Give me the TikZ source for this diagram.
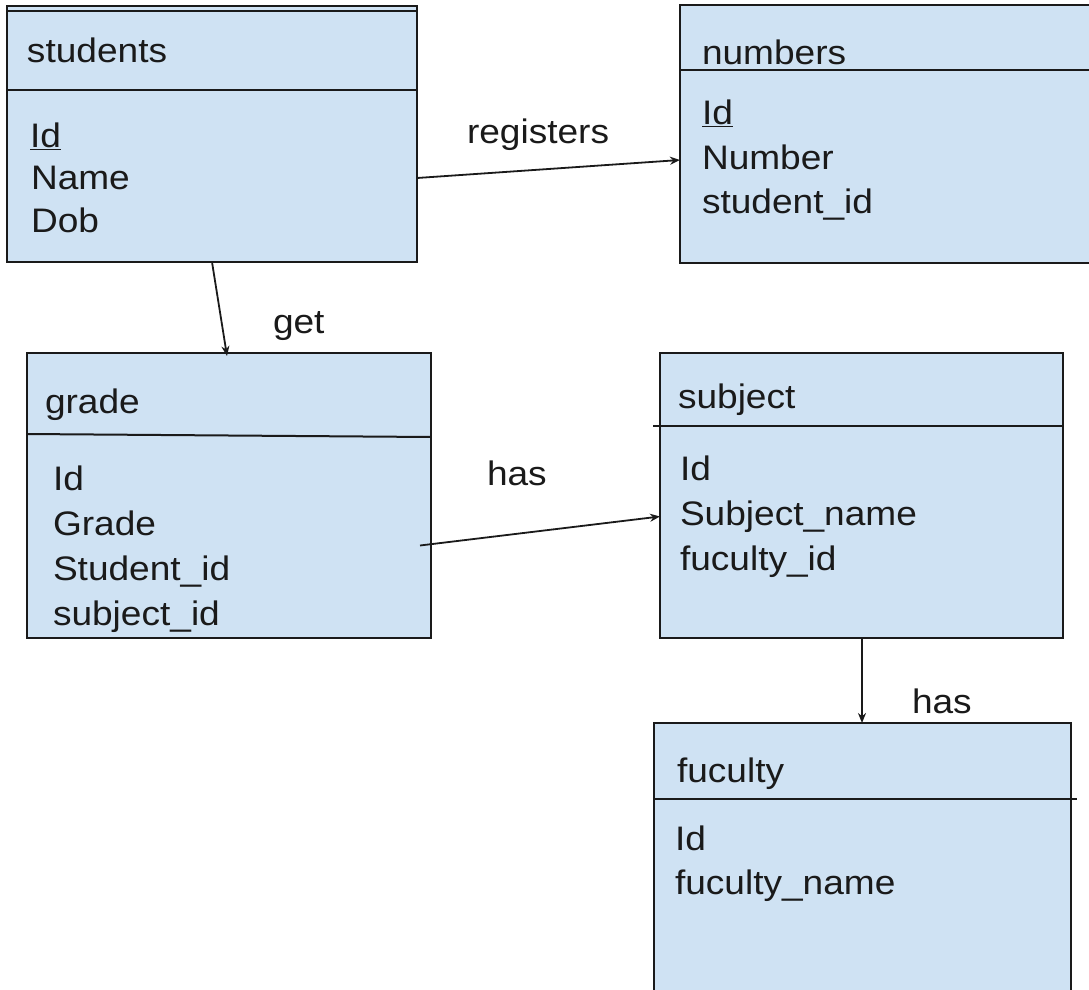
\documentclass[tikz,border=0pt]{standalone}
\usepackage{fontspec}
\setmainfont[FakeStretch=1.09]{Liberation Sans}
\usetikzlibrary{arrows.meta}
\definecolor{tblfill}{HTML}{CFE2F3}
\definecolor{ink}{HTML}{1A1A1A}
\tikzset{
  tbl/.style={draw=ink, line width=2pt, fill=tblfill, rectangle, anchor=north west, inner sep=0pt, outer sep=0pt},
  divider/.style={draw=ink, line width=2pt},
  txt/.style={anchor=base west, inner sep=0pt, outer sep=0pt, text=ink, font=\fontsize{34}{45}\selectfont},
  rel/.style={draw=ink, line width=1.8pt, -{Stealth[length=10pt, width=8pt]}},
}
\begin{document}
\begin{tikzpicture}[x=1pt, y=-1pt]
\useasboundingbox (0,0) rectangle (1089,990);
\clip (0,0) rectangle (1089,990);

% table boxes
\node[tbl, minimum width=410pt, minimum height=256pt] (students) at (7,6) {};
\draw[divider] (7,11) -- (417,11);
\draw[divider] (7,90) -- (417,90);

\node[tbl, minimum width=430pt, minimum height=258pt] (numbers) at (680,5) {};
\draw[divider] (680,70) -- (1110,70);

\node[tbl, minimum width=404pt, minimum height=285pt] (grade) at (27,353) {};
\draw[divider] (27,434) -- (431,437);

\node[tbl, minimum width=403pt, minimum height=285pt] (subject) at (660,353) {};
\draw[divider] (653,426) -- (1063,426);

\node[tbl, minimum width=417pt, minimum height=290pt] (fuculty) at (654,723) {};
\draw[divider] (654,799) -- (1077,799);

% students
\node[txt] (students-t) at (27,63) {students};
\node[txt] (students-a1) at (30,147) {\underline{Id}};
\node[txt] (students-a2) at (31,189) {Name};
\node[txt] (students-a3) at (31,232) {Dob};

% numbers
\node[txt] (numbers-t) at (702,65) {numbers};
\node[txt] (numbers-a1) at (702,124) {\underline{Id}};
\node[txt] (numbers-a2) at (702,169) {Number};
\node[txt] (numbers-a3) at (702,213) {student\_id};

% grade
\node[txt] (grade-t) at (45,413) {grade};
\node[txt] (grade-a1) at (53,490) {Id};
\node[txt] (grade-a2) at (53,535) {Grade};
\node[txt] (grade-a3) at (53,580) {Student\_id};
\node[txt] (grade-a4) at (53,625) {subject\_id};

% subject
\node[txt] (subject-t) at (678,408) {subject};
\node[txt] (subject-a1) at (680,480) {Id};
\node[txt] (subject-a2) at (680,525) {Subject\_name};
\node[txt] (subject-a3) at (680,570) {fuculty\_id};

% fuculty
\node[txt] (fuculty-t) at (677,782) {fuculty};
\node[txt] (fuculty-a1) at (675,850) {Id};
\node[txt] (fuculty-a2) at (675,894) {fuculty\_name};

% relationship labels
\node[txt] (l-registers) at (467,143) {registers};
\node[txt] (l-get) at (273,333) {get};
\node[txt] (l-has1) at (487,485) {has};
\node[txt] (l-has2) at (912,713) {has};

% relationships
\draw[rel] ([yshift=-44pt]students.east) -- ([yshift=-26pt]numbers.west);
\draw[rel] (students.south -| 212,0) -- ([yshift=-3pt]grade.north -| 227,0);
\draw[rel] ([xshift=-11pt, yshift=-50pt]grade.east) -- ([yshift=-21pt]subject.west);
\draw[rel] (subject.south -| 862,0) -- (fuculty.north -| 862,0);
\end{tikzpicture}
\end{document}
